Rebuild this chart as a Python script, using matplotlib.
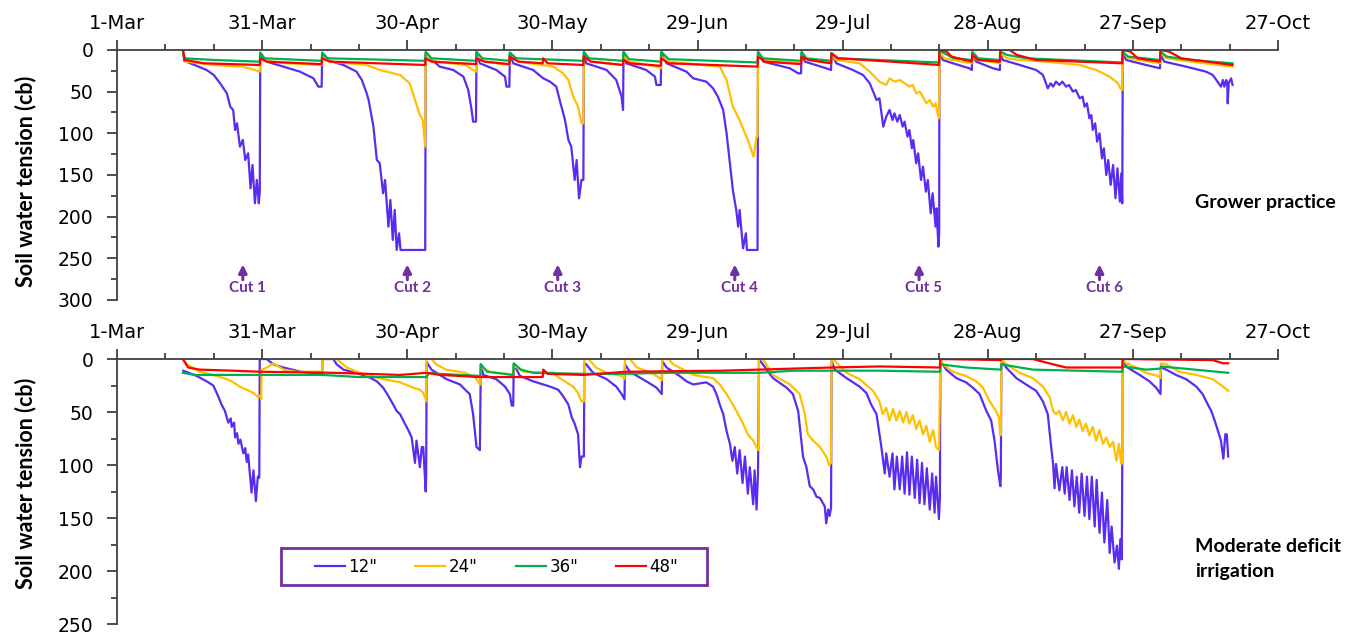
import matplotlib.pyplot as plt
from matplotlib.patches import Rectangle

plt.rcParams['font.family'] = ['DejaVu Sans']

# x axis: days after 1-Mar
date_ticks = [0, 30, 60, 90, 120, 150, 180, 210, 240]
date_labels = ['1-Mar', '31-Mar', '30-Apr', '30-May', '29-Jun', '29-Jul', '28-Aug', '27-Sep', '27-Oct']
depth_labels = ['12"', '24"', '36"', '48"']
depth_colors = ['#5a2cf0', '#ffc000', '#00b050', '#ff0000']

cut_labels = ['Cut 1', 'Cut 2', 'Cut 3', 'Cut 4', 'Cut 5', 'Cut 6']
cut_days = [26.0, 60.0, 91.1, 127.7, 165.8, 203.1]

# Grower practice (day, cb)
gp_12 = [(13.6, 0), (13.9, 13), (16.0, 18), (18.5, 24), (20.0, 30), (21.3, 40), (22.7, 52), (23.4, 68), (24.0, 72),
         (24.4, 96), (24.8, 88), (25.4, 116), (26.0, 108), (26.5, 132), (27.1, 124), (27.6, 166), (28.0, 138),
         (28.5, 184), (28.9, 156), (29.3, 184), (29.5, 170),
         (29.6, 5), (30.9, 14), (34.4, 20), (37.8, 26), (40.6, 34), (41.6, 44), (42.3, 44),
         (42.4, 4), (43.3, 12), (46.8, 18), (49.5, 26), (50.6, 36), (51.6, 52), (52.0, 60), (53.0, 92), (53.7, 132),
         (54.3, 136), (55.0, 172), (55.4, 156), (56.1, 212), (56.5, 180), (57.0, 228), (57.4, 192), (57.8, 240),
         (58.3, 220), (58.6, 240), (63.7, 240),
         (63.8, 5), (66.7, 20), (69.5, 24), (71.6, 32), (72.6, 48), (73.3, 72), (73.6, 86), (74.2, 86),
         (74.3, 4), (75.0, 16), (78.4, 24), (80.2, 32), (80.5, 44), (81.1, 44),
         (81.2, 4), (81.9, 16), (86.0, 24), (88.1, 34), (89.5, 38), (90.8, 44), (91.5, 60), (92.6, 84), (93.3, 108),
         (93.9, 116), (94.6, 156), (95.0, 132), (95.5, 178), (96.0, 156), (96.4, 156),
         (96.5, 4), (97.0, 16), (101.2, 24), (103.2, 36), (104.3, 56), (104.6, 72),
         (104.7, 4), (105.3, 16), (109.4, 24), (111.2, 32), (111.5, 42), (112.4, 42),
         (112.5, 4), (113.6, 16), (117.7, 26), (119.1, 34), (121.8, 38), (123.2, 46), (124.2, 56), (125.3, 72),
         (126.0, 100), (126.7, 136), (127.3, 168), (128.0, 192), (128.4, 212), (128.7, 192), (129.4, 238),
         (130.0, 220), (130.2, 240), (132.4, 240),
         (132.5, 4), (133.6, 14), (139.1, 22), (140.8, 28), (141.4, 28),
         (141.5, 4), (142.2, 14), (146.6, 22), (147.6, 24),
         (147.7, 4), (148.7, 16), (152.1, 24), (154.2, 30), (155.6, 40), (157.0, 60), (157.6, 58), (158.4, 92),
         (159.0, 80), (159.7, 72), (160.3, 84), (160.7, 76), (161.3, 86), (161.8, 78), (162.4, 92), (162.8, 86),
         (163.4, 104), (163.8, 96), (164.3, 118), (164.6, 108), (165.2, 136), (165.6, 124), (166.2, 156),
         (166.6, 140), (167.2, 170), (167.6, 156), (168.2, 196), (168.6, 172), (169.2, 212), (169.4, 190),
         (169.8, 236), (169.95, 220),
         (170.0, 2), (170.7, 12), (172.8, 16), (176.2, 22), (176.7, 24),
         (176.8, 6), (177.6, 14), (181.1, 22), (182.5, 24),
         (182.6, 4), (183.1, 12), (186.6, 18), (190.0, 24), (191.4, 30), (192.4, 46), (193.0, 40), (193.5, 44),
         (194.1, 38), (194.8, 42), (195.4, 38), (196.2, 44), (196.8, 42), (197.6, 50), (198.2, 48), (199.0, 58),
         (199.6, 56), (200.0, 68), (200.5, 64), (201.0, 82), (201.4, 78), (201.7, 96), (202.2, 88), (202.6, 110),
         (203.1, 100), (203.6, 130), (204.0, 118), (204.5, 150), (204.9, 132), (205.4, 162), (205.9, 138),
         (206.4, 178), (206.8, 142), (207.3, 182), (207.6, 148), (207.8, 184),
         (207.9, 4), (208.6, 12), (212.7, 18), (215.6, 22),
         (215.7, 6), (216.5, 14), (221.0, 20), (225.1, 26), (226.5, 30), (227.5, 38), (228.2, 44), (228.6, 36),
         (228.9, 44), (229.3, 36), (229.5, 40), (229.6, 64), (229.8, 40), (230.3, 34), (230.6, 42)]

gp_24 = [(13.6, 0), (14.2, 14), (20.0, 18), (26.0, 20), (28.5, 24), (29.5, 26),
         (29.6, 12), (35.0, 16), (42.3, 18),
         (42.4, 8), (44.0, 14), (51.6, 18), (54.3, 24), (58.5, 30), (60.5, 40), (61.6, 60), (62.6, 78), (63.2, 84),
         (63.7, 116),
         (63.8, 6), (66.0, 14), (72.0, 18), (73.6, 24), (74.2, 26),
         (74.3, 8), (76.0, 14), (81.1, 18),
         (81.2, 8), (83.0, 14), (90.2, 20), (92.2, 28), (93.3, 36), (94.3, 56), (95.3, 68), (96.0, 88), (96.4, 88),
         (96.5, 8), (98.0, 14), (104.6, 18),
         (104.7, 8), (106.0, 14), (111.5, 20), (112.4, 22),
         (112.5, 8), (114.0, 14), (124.6, 20), (126.0, 36), (127.3, 68), (128.7, 84), (129.8, 100), (130.4, 108),
         (131.1, 120), (131.6, 128), (132.2, 104), (132.4, 104),
         (132.5, 6), (134.0, 12), (141.4, 16),
         (141.5, 6), (143.0, 12), (147.6, 16),
         (147.7, 6), (148.7, 12), (153.5, 16), (155.6, 26), (157.6, 38), (159.0, 42), (159.7, 34), (160.7, 38),
         (161.8, 36), (162.8, 40), (163.8, 44), (164.5, 42), (165.2, 52), (166.0, 50), (167.3, 64), (168.0, 60),
         (168.7, 68), (169.2, 64), (169.7, 78), (169.95, 82),
         (170.0, 2), (171.0, 10), (176.7, 16),
         (176.8, 8), (178.0, 12), (182.5, 16),
         (182.6, 4), (184.0, 10), (186.6, 12), (192.1, 14), (199.0, 18), (202.4, 24), (205.2, 32), (206.9, 40),
         (207.4, 46), (207.8, 48),
         (207.9, 2), (209.0, 10), (215.6, 16),
         (215.7, 4), (217.0, 10), (222.0, 14), (230.6, 20)]

gp_36 = [(13.6, 0), (13.9, 10), (20.0, 12), (29.5, 14),
         (29.6, 3), (30.5, 10), (42.3, 13),
         (42.4, 3), (43.5, 10), (63.7, 13),
         (63.8, 2), (65.0, 10), (74.2, 13),
         (74.3, 2), (75.5, 10), (81.1, 13),
         (81.2, 3), (82.5, 10), (96.4, 13),
         (96.5, 2), (97.5, 10), (104.6, 13),
         (104.7, 2), (105.8, 11), (112.4, 14),
         (112.5, 2), (114.0, 11), (132.4, 15),
         (132.5, 2), (133.5, 10), (141.4, 13),
         (141.5, 2), (142.5, 10), (147.6, 13),
         (147.7, 4), (149.0, 10), (169.9, 15),
         (170.0, 0), (171.0, 4), (173.0, 10), (176.7, 12),
         (176.8, 2), (178.0, 10), (182.5, 12),
         (182.6, 2), (184.0, 6), (188.0, 10), (207.8, 15),
         (207.9, 2), (209.0, 8), (215.6, 12),
         (215.7, 2), (217.0, 8), (222.0, 12), (230.6, 16)]

gp_48 = [(13.6, 0), (14.0, 12), (18.0, 16), (29.5, 18),
         (29.6, 10), (31.0, 14), (42.3, 17),
         (42.4, 10), (44.0, 14), (63.7, 18),
         (63.8, 10), (65.0, 14), (74.2, 17),
         (74.3, 10), (76.0, 14), (81.1, 17),
         (81.2, 8), (83.0, 14), (88.0, 16), (88.1, 10), (89.0, 16), (96.4, 18),
         (96.5, 8), (98.0, 14), (104.6, 18),
         (104.7, 12), (106.0, 16), (112.4, 19),
         (112.5, 10), (114.0, 16), (132.4, 20),
         (132.5, 8), (134.0, 14), (141.4, 17),
         (141.5, 8), (143.0, 12), (147.6, 16),
         (147.7, 4), (149.0, 10), (160.0, 14), (169.9, 18),
         (170.0, 0), (171.5, 2), (172.5, 8), (176.7, 14),
         (176.8, 6), (178.0, 12), (182.5, 14),
         (182.6, 0), (184.5, 0), (186.0, 6), (190.0, 12), (207.8, 16),
         (207.9, 0), (209.5, 2), (211.0, 10), (215.6, 14),
         (215.7, 0), (217.5, 2), (220.0, 10), (230.6, 18)]

# Moderate deficit irrigation (day, cb)
mdi_12 = [(13.7, 11), (16.5, 16), (18.5, 21), (19.9, 25), (20.9, 35), (21.6, 43), (22.3, 49), (23.0, 60), (23.5, 56),
          (23.7, 64), (24.2, 60), (24.4, 74), (24.8, 70), (25.1, 80), (25.5, 76), (26.1, 89), (26.5, 84), (26.8, 97),
          (27.1, 90), (27.8, 126), (28.2, 105), (28.7, 134), (29.1, 111), (29.4, 112),
          (29.5, 0), (30.9, 0), (32.3, 5), (34.4, 8), (38.0, 12), (42.4, 14),
          (42.5, 0), (44.7, 0), (45.4, 5), (46.8, 10), (51.6, 16), (53.7, 21), (55.0, 27), (56.1, 35), (57.1, 43),
          (57.8, 49), (58.5, 52), (59.5, 61), (60.2, 67), (60.9, 74), (61.6, 98), (61.9, 77), (62.6, 102), (63.0, 83),
          (63.3, 83), (63.8, 125), (63.9, 110),
          (64.0, 3), (65.0, 10), (66.7, 15), (68.1, 19), (70.9, 24), (72.2, 30), (72.9, 33), (73.6, 52), (74.3, 83),
          (75.0, 86),
          (75.2, 5), (75.7, 15), (78.4, 19), (80.2, 26), (81.2, 33), (81.6, 44), (81.9, 44),
          (82.0, 5), (83.3, 16), (86.0, 21), (88.1, 24), (89.5, 26), (91.2, 29), (92.2, 35), (93.3, 43), (94.0, 55),
          (94.6, 61), (95.3, 71), (95.7, 102), (96.0, 92), (96.5, 92),
          (96.6, 4), (97.0, 5), (98.4, 13), (101.2, 19), (103.2, 26), (104.3, 33), (104.9, 38),
          (105.0, 5), (106.0, 12), (109.4, 21), (111.5, 27), (112.6, 33),
          (112.7, 2), (113.6, 8), (116.3, 16), (117.7, 21), (119.1, 24), (121.8, 22), (123.2, 26), (123.9, 33),
          (124.6, 43), (125.3, 52), (126.0, 68), (126.7, 80), (127.2, 96), (127.7, 83), (128.2, 108), (128.7, 86),
          (129.3, 117), (129.8, 92), (130.4, 127), (130.8, 102), (131.5, 137), (131.8, 105), (132.2, 142),
          (132.5, 108),
          (132.7, 0), (133.5, 5), (135.6, 18), (138.4, 27), (139.7, 33), (140.8, 49), (141.8, 92), (142.5, 102),
          (143.2, 120), (143.9, 123), (144.6, 130), (145.3, 131), (146.3, 139), (146.6, 155), (147.0, 142),
          (147.3, 148), (147.6, 140),
          (147.7, 2), (148.4, 10), (150.8, 18), (153.5, 26), (154.9, 32), (155.9, 43), (157.0, 52), (158.0, 83),
          (158.7, 108), (159.0, 89), (159.7, 111), (160.3, 89), (160.7, 123), (161.2, 92), (161.8, 123), (162.3, 92),
          (162.8, 127), (163.3, 88), (163.8, 128), (164.3, 92), (164.9, 131), (165.4, 95), (165.9, 136), (166.4, 98),
          (166.9, 137), (167.4, 103), (168.0, 142), (168.5, 108), (169.0, 145), (169.3, 111), (169.9, 151),
          (170.1, 130),
          (170.2, 0), (170.7, 5), (171.4, 10), (173.5, 18), (175.5, 22), (176.9, 27), (178.3, 33), (179.7, 49),
          (180.7, 58), (181.4, 77), (182.1, 105), (182.6, 120), (182.7, 110),
          (182.8, 2), (183.8, 8), (185.9, 18), (187.9, 24), (190.0, 30), (191.4, 40), (192.4, 52), (193.1, 83),
          (193.5, 99), (193.8, 122), (194.1, 99), (194.8, 124), (195.4, 102), (195.9, 127), (196.3, 102),
          (196.9, 133), (197.4, 105), (197.9, 139), (198.4, 111), (198.9, 145), (199.4, 108), (200.0, 148),
          (200.5, 111), (201.0, 151), (201.5, 111), (202.1, 158), (202.5, 114), (203.1, 164), (203.6, 126),
          (204.1, 173), (204.7, 133), (205.2, 183), (205.6, 158), (206.2, 192), (206.7, 176), (207.1, 198),
          (207.4, 170), (207.7, 189),
          (207.9, 2), (208.9, 8), (211.4, 15), (213.4, 21), (214.8, 27), (215.7, 33),
          (215.8, 8), (216.9, 10), (218.9, 15), (221.0, 19), (223.1, 26), (224.4, 33), (225.5, 43), (226.2, 49),
          (226.9, 58), (227.6, 68), (228.2, 77), (228.7, 94), (229.1, 71), (229.4, 71), (229.7, 92)]

mdi_24 = [(13.6, 0), (14.4, 5), (17.1, 12), (19.9, 15), (22.7, 19), (24.0, 22), (25.4, 26), (26.8, 29), (28.2, 32),
          (29.2, 36), (29.7, 34), (29.8, 38),
          (29.9, 10), (31.0, 8), (32.3, 4), (33.0, 6), (34.4, 10), (37.0, 12), (42.4, 12),
          (42.5, 0), (45.4, 0), (47.5, 8), (50.2, 13), (55.0, 19), (58.5, 22), (61.2, 27), (62.6, 29), (63.3, 32),
          (63.8, 38), (63.9, 40),
          (64.0, 0), (65.0, 0), (66.0, 5), (68.0, 10), (72.0, 13), (74.2, 18), (75.0, 24), (75.1, 24),
          (75.2, 8), (77.0, 12), (81.9, 15),
          (82.0, 6), (84.0, 12), (90.2, 13), (91.5, 18), (92.9, 22), (94.3, 26), (95.3, 32), (96.0, 40), (96.5, 40),
          (96.6, 0), (97.5, 0), (99.0, 8), (101.2, 13), (104.3, 16), (104.9, 19),
          (105.0, 0), (106.0, 0), (107.5, 8), (110.5, 13), (112.2, 18), (112.6, 20),
          (112.7, 0), (114.0, 0), (115.0, 5), (119.1, 15), (123.2, 18), (124.6, 24), (126.0, 33), (127.3, 43),
          (128.4, 52), (129.4, 61), (130.4, 71), (131.5, 77), (132.2, 83), (132.6, 86),
          (132.7, 0), (133.5, 0), (134.2, 5), (135.6, 15), (139.1, 24), (141.1, 33), (142.2, 52), (142.8, 71),
          (143.9, 77), (145.3, 83), (146.6, 92), (147.2, 100), (147.6, 98),
          (147.7, 0), (148.4, 2), (150.8, 13), (153.5, 19), (156.3, 30), (157.6, 40), (158.3, 52), (159.0, 46),
          (159.7, 58), (160.4, 47), (161.1, 58), (161.8, 49), (162.5, 60), (163.2, 50), (163.8, 61), (164.5, 53),
          (165.2, 66), (165.9, 58), (166.6, 71), (167.3, 63), (168.0, 78), (168.7, 67), (169.3, 83), (169.9, 86),
          (170.2, 0), (170.7, 5), (172.8, 12), (175.5, 16), (177.6, 21), (179.0, 27), (180.4, 40), (181.7, 49),
          (182.3, 55), (182.6, 72), (182.7, 70),
          (182.8, 0), (183.8, 5), (186.6, 13), (189.3, 18), (191.4, 26), (192.8, 36), (193.5, 49), (194.1, 52),
          (194.8, 49), (195.5, 58), (196.2, 50), (196.9, 61), (197.6, 53), (198.3, 64), (198.9, 57), (199.6, 68),
          (200.3, 61), (201.0, 72), (201.7, 64), (202.4, 77), (203.1, 67), (203.8, 80), (204.5, 74), (205.2, 83),
          (205.9, 78), (206.6, 96), (207.1, 80), (207.6, 99), (207.8, 95),
          (207.9, 0), (208.6, 4), (210.7, 8), (212.7, 13), (215.1, 16), (215.7, 18),
          (215.8, 4), (216.9, 5), (219.6, 12), (223.1, 15), (226.5, 19), (228.6, 26), (229.7, 30)]

mdi_36 = [(13.6, 13), (16.0, 15), (29.5, 15), (42.5, 15), (50.0, 17), (64.0, 17), (64.5, 13), (66.7, 14), (75.1, 16),
          (75.2, 5), (76.5, 12), (81.9, 15),
          (82.0, 4), (83.5, 10), (86.0, 13), (96.6, 14), (105.0, 14), (112.7, 13), (132.7, 13), (140.0, 11),
          (147.7, 11), (157.6, 11), (170.1, 12),
          (170.2, 5), (175.5, 8), (182.7, 10),
          (182.8, 5), (189.3, 10), (207.8, 12),
          (207.9, 7), (212.7, 10), (215.7, 9),
          (215.8, 7), (229.7, 13)]

mdi_48 = [(13.6, 0), (14.7, 8), (17.1, 10), (24.0, 11), (29.5, 12), (45.0, 13), (58.5, 15), (64.0, 13), (66.7, 15),
          (75.0, 17), (82.0, 17), (88.0, 17), (88.1, 10), (89.0, 14), (96.6, 15), (105.0, 12), (125.0, 11),
          (132.7, 10), (140.0, 9), (147.7, 8), (157.6, 7), (170.1, 8),
          (170.2, 0), (182.7, 1),
          (182.8, 0), (189.3, 0), (193.5, 5), (196.2, 8), (207.8, 8),
          (207.9, 0), (226.5, 1), (228.6, 4), (229.7, 4)]

purple = '#7030a0'
axis_color = '#404040'

fig = plt.figure(figsize=(13.47, 6.35), dpi=100)
ax1 = fig.add_axes([0.0869, 0.5276, 0.8619, 0.3937])
ax2 = fig.add_axes([0.0869, 0.0173, 0.8619, 0.4173])


def style_axis(ax, ymax):
    ax.set_xlim(0, 240)
    ax.set_ylim(ymax, 0)
    ax.xaxis.tick_top()
    ax.set_xticks(date_ticks)
    ax.set_xticklabels(date_labels)
    ax.set_xticks(range(0, 241, 10), minor=True)
    ax.set_yticks(range(0, ymax + 1, 50))
    ax.set_yticks(range(0, ymax + 1, 25), minor=True)
    for side in ['right', 'bottom']:
        ax.spines[side].set_visible(False)
    for side in ['top', 'left']:
        ax.spines[side].set_color(axis_color)
        ax.spines[side].set_linewidth(1.3)
    ax.tick_params(axis='x', which='both', direction='out', top=True, bottom=False,
                   color=axis_color, width=1.3, labelsize=14, pad=5)
    ax.tick_params(axis='y', which='both', direction='out', color=axis_color, width=1.3,
                   labelsize=13.5, pad=10)
    ax.tick_params(which='major', length=7)
    ax.tick_params(which='minor', length=4.5)


panels = [(ax1, [gp_12, gp_24, gp_36, gp_48], 300),
          (ax2, [mdi_12, mdi_24, mdi_36, mdi_48], 250)]

for ax, series, ymax in panels:
    for data, label, color in zip(series, depth_labels, depth_colors):
        days, values = zip(*data)
        ax.plot(days, values, color=color, linewidth=1.6, label=label)
    style_axis(ax, ymax)

# y labels
ax1.text(-0.079, 0.476, 'Soil water tension (cb)', transform=ax1.transAxes, rotation=90,
         ha='center', va='center', fontsize=15.5, fontweight='bold', family='Lato')
ax2.text(-0.079, 0.53, 'Soil water tension (cb)', transform=ax2.transAxes, rotation=90,
         ha='center', va='center', fontsize=15.5, fontweight='bold', family='Lato')

# cut markers
for day, label in zip(cut_days, cut_labels):
    ax1.annotate('', xy=(day, 254), xytext=(day, 279),
                 arrowprops=dict(arrowstyle='-|>', color=purple, lw=2.2, mutation_scale=12))
    ax1.text(day + 1.0, 286, label, ha='center', va='center', color=purple,
             fontsize=11, fontweight='bold', family='Lato')

# treatment labels
ax1.text(0.9285, 0.388, 'Grower practice', transform=ax1.transAxes, ha='left', va='center',
         fontsize=14, fontweight='bold', family='Lato')
ax2.text(0.9285, 0.245, 'Moderate deficit\nirrigation', transform=ax2.transAxes, ha='left', va='center',
         fontsize=14, fontweight='bold', family='Lato', linespacing=1.6)

# legend with purple box
ax2.add_patch(Rectangle((0.1413, 0.1455), 0.3669, 0.1418, transform=ax2.transAxes,
                        fill=False, edgecolor=purple, linewidth=2, clip_on=False))
ax2.legend(loc='center', bbox_to_anchor=(0.3269, 0.2164), ncol=4, frameon=False, fontsize=12,
           handlelength=1.8, handletextpad=0.2, columnspacing=2.3)

fig.savefig('out.png', dpi=100)
